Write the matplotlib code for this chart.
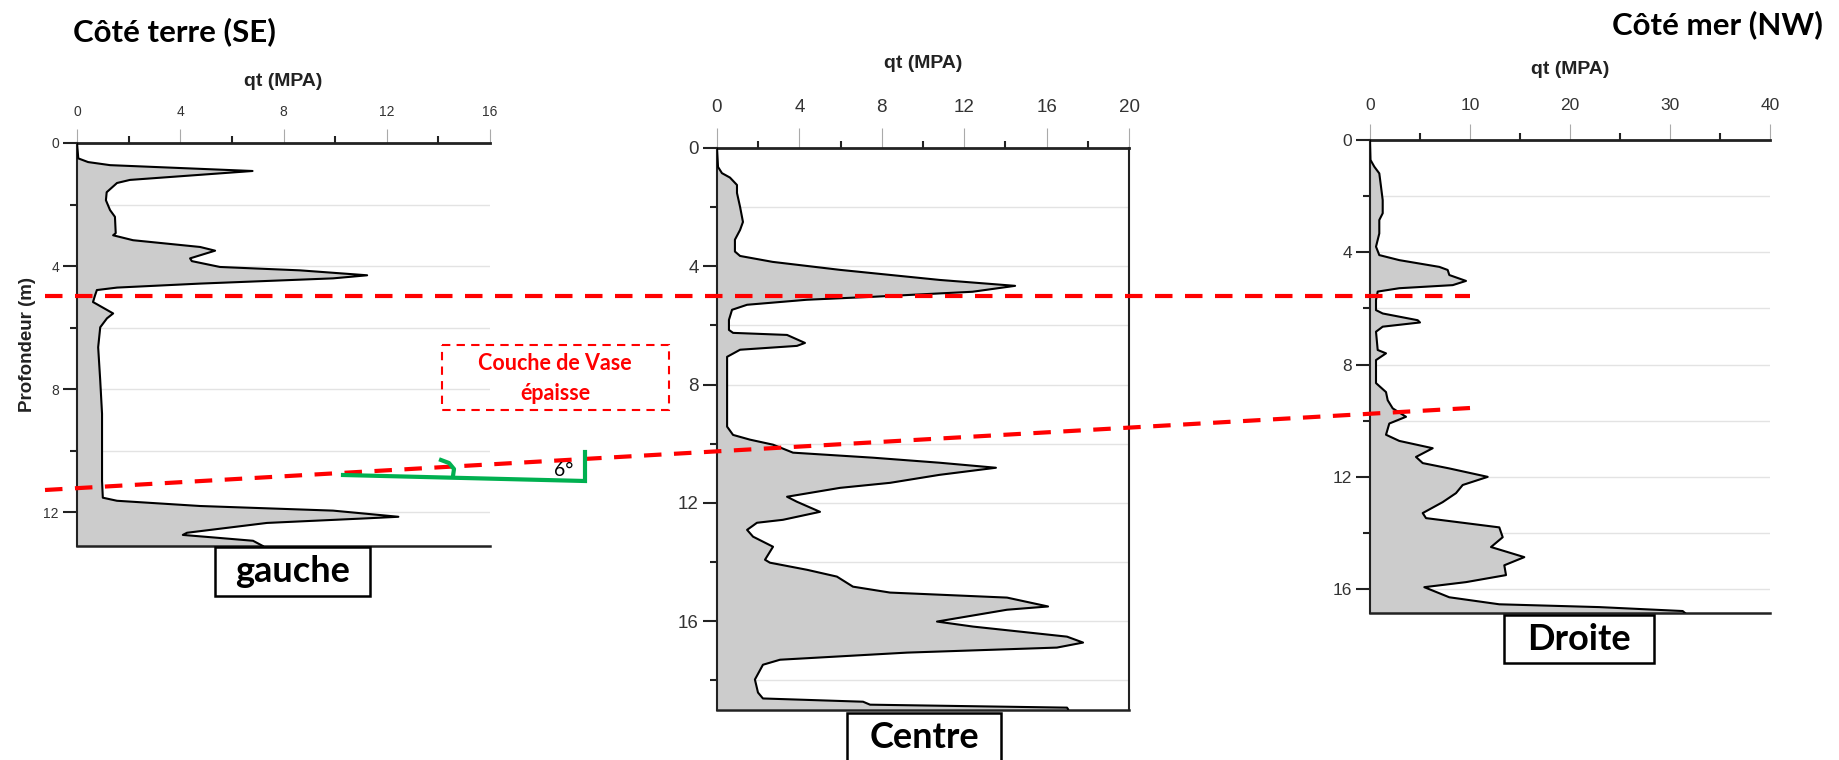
import numpy as np
import matplotlib
matplotlib.use("Agg")
import matplotlib.pyplot as plt
from matplotlib.patches import Rectangle
from matplotlib import font_manager

# ---- data: depth (m) and qt (MPa) ----
gauche_depth = [0, 0.5, 0.62, 0.72, 0.91, 1.2, 1.3, 1.6, 1.86, 2.18, 2.4, 2.93, 3.0, 3.16,
                3.38, 3.5, 3.75, 3.84, 4.03, 4.14, 4.3, 4.4, 4.57, 4.7, 4.78, 4.95, 5.17,
                5.24, 5.54, 5.7, 5.99, 6.64, 7.72, 8.8, 9.9, 10.98, 11.53, 11.63, 11.8,
                11.95, 12.15, 12.2, 12.35, 12.67, 12.74, 12.83, 12.93, 13.1]
gauche_qt = [0, 0.05, 0.43, 1.28, 6.8, 2.05, 1.55, 1.15, 1.12, 1.28, 1.47, 1.5, 1.4, 2.17,
             4.77, 5.35, 4.38, 4.45, 5.54, 8.64, 11.24, 9.92, 4.77, 1.55, 0.77, 0.7, 0.62,
             0.77, 1.4, 1.16, 0.9, 0.82, 0.9, 0.97, 0.97, 0.97, 1.0, 1.55, 4.77,
             9.92, 12.45, 11.24, 7.36, 4.26, 4.1, 5.4, 6.82, 7.2]

centre_depth = [0, 0.64, 0.85, 1.0, 1.25, 1.52, 1.99, 2.5, 2.77, 3.1, 3.5, 3.65, 3.85, 4.12,
                4.46, 4.66, 4.86, 5.03, 5.13, 5.3, 5.47, 5.81, 6.15, 6.25, 6.32, 6.59, 6.69,
                6.82, 7.06, 7.6, 8.74, 9.42, 9.7, 9.86, 10.03, 10.3, 10.47, 10.64, 10.81,
                11.05, 11.32, 11.49, 11.79, 11.96, 12.3, 12.57, 12.67, 12.91, 13.14, 13.48,
                13.92, 14.02, 14.26, 14.49, 14.83, 15.03, 15.2, 15.5, 15.61, 16.01, 16.18,
                16.52, 16.72, 16.89, 17.06, 17.3, 17.47, 17.97, 18.41, 18.61, 18.72, 18.82,
                18.92, 18.97]
centre_qt = [0, 0.05, 0.24, 0.63, 0.97, 0.97, 1.12, 1.26, 1.12, 0.87, 0.87, 1.12, 2.7, 5.97,
             10.8, 14.47, 12.4, 7.57, 4.37, 1.46, 0.73, 0.58, 0.58, 0.78, 3.4, 4.27, 3.88,
             1.12, 0.49, 0.49, 0.49, 0.49, 0.78, 1.6, 2.72, 3.69, 7.57, 10.8, 13.54,
             10.8, 8.4, 5.97, 3.4, 3.88, 5.0, 3.2, 1.94, 1.46, 1.75, 2.72,
             2.33, 2.57, 4.37, 5.82, 6.6, 8.4, 14.08, 16.07, 14.08, 10.68, 12.43,
             16.99, 17.77, 16.5, 9.22, 3.06, 2.23, 1.84, 1.99, 2.23, 7.09, 7.43,
             16.99, 17.04]

droite_depth = [0, 0.71, 0.95, 1.19, 1.66, 2.14, 2.61, 2.85, 3.33, 3.8, 4.1, 4.28, 4.52, 4.63,
                4.81, 5.02, 5.17, 5.28, 5.4, 5.7, 6.06, 6.18, 6.42, 6.5, 6.65, 6.83, 7.48,
                7.6, 7.84, 8.66, 8.98, 9.27, 9.56, 9.86, 10.1, 10.5, 10.72, 10.98, 11.29,
                11.51, 11.7, 12.0, 12.29, 12.58, 12.9, 13.29, 13.47, 13.8, 14.15, 14.5,
                14.86, 15.15, 15.5, 15.75, 15.93, 16.29, 16.54, 16.64, 16.78, 16.85]
droite_qt = [0, 0.05, 0.43, 0.93, 1.1, 1.27, 1.27, 0.93, 0.93, 0.6, 0.93, 2.93, 6.93, 7.77,
             7.93, 9.6, 8.27, 2.93, 0.77, 0.6, 0.6, 1.27, 4.77, 5.0, 1.27, 0.6, 0.77,
             1.6, 0.6, 0.6, 1.6, 1.77, 2.27, 3.6, 1.93, 1.6, 2.93, 6.27, 4.6,
             5.27, 7.93, 11.77, 9.27, 8.6, 7.27, 5.27, 5.6, 12.93, 13.27, 12.1,
             15.43, 13.43, 13.6, 9.6, 5.43, 7.93, 12.93, 22.93, 31.27, 31.5]

panel_names = ["gauche", "Centre", "Droite"]
x_max = [16, 20, 40]
x_step = [4, 4, 10]
y_max = [13.1, 19.0, 16.85]

W, H = 1839, 760
fig = plt.figure(figsize=(W / 100, H / 100), dpi=100)

installed = {f.name for f in font_manager.fontManager.ttflist}
narrow = "Liberation Sans Narrow" if "Liberation Sans Narrow" in installed else "Liberation Sans"
title_font = "Lato"

# axes boxes in pixels (x0, x1, ytop, ybottom) and per-panel tick styling
boxes = [(77, 490, 143, 546), (717, 1129, 148, 710), (1370, 1770, 140, 613)]
tick_size = [10, 13.5, 12.5]
major_len = [10, 14.5, 11.5]
tick_pad = [7, 8.5, 8]
qt_y = [82, 63, 70]
right_spine = [False, True, False]

curves = [(gauche_depth, gauche_qt), (centre_depth, centre_qt), (droite_depth, droite_qt)]

for i, (depth, qt) in enumerate(curves):
    x0, x1, yt, yb = boxes[i]
    ax = fig.add_axes([x0 / W, 1 - yb / H, (x1 - x0) / W, (yb - yt) / H])
    ax.fill_betweenx(depth, 0, qt, color="#cccccc", zorder=2, linewidth=0)
    ax.plot(qt, depth, color="black", lw=1.5, zorder=3)

    ax.set_xlim(0, x_max[i])
    ax.set_ylim(y_max[i], 0)
    ax.xaxis.tick_top()
    ax.set_xticks(np.arange(0, x_max[i] + 0.1, x_step[i]))
    ax.set_xticks(np.arange(x_step[i] / 2, x_max[i], x_step[i]), minor=True)
    ax.set_yticks(np.arange(0, y_max[i], 4))
    ax.set_yticks(np.arange(2, y_max[i], 4), minor=True)
    ax.tick_params(axis="x", which="major", length=major_len[i], width=0.8, color="#aaaaaa",
                   labelsize=tick_size[i], labelcolor="#333333", pad=tick_pad[i])
    ax.tick_params(axis="x", which="minor", length=5, width=1.5, color="#222222")
    ax.tick_params(axis="y", which="major", length=10, width=1.5, color="#222222",
                   labelsize=tick_size[i], labelcolor="#333333", pad=3)
    ax.tick_params(axis="y", which="minor", length=5, width=1.5, color="#222222")
    for lab in ax.get_xticklabels() + ax.get_yticklabels():
        lab.set_fontfamily(narrow)

    ax.grid(True, axis="y", which="both", color="#e3e3e3", lw=1, zorder=0)
    ax.set_axisbelow(True)

    for s in ["top", "left", "bottom", "right"]:
        ax.spines[s].set_color("#222222")
    ax.spines["top"].set_linewidth(2)
    ax.spines["left"].set_linewidth(1.5)
    ax.spines["bottom"].set_linewidth(1.8)
    ax.spines["right"].set_visible(right_spine[i])
    ax.spines["right"].set_linewidth(1.5)

    # axis title placed at the measured height above each panel
    fig.text((x0 + x1) / 2 / W, 1 - qt_y[i] / H, "qt (MPA)", fontsize=14, fontweight="bold",
             family=narrow, color="#222222", ha="center", va="center")
    if i == 0:
        ax.set_ylabel("Profondeur (m)", fontsize=13.5, fontweight="bold", family=narrow,
                      color="#222222", labelpad=5)

# ---- hand-drawn annotations (pixel coordinates of the figure) ----
ov = fig.add_axes([0, 0, 1, 1], zorder=10)
ov.set_xlim(0, W)
ov.set_ylim(H, 0)
ov.axis("off")
ov.patch.set_alpha(0)

ov.text(73, 32, "Côté terre (SE)", fontsize=22.5, fontweight="bold", family=title_font,
        ha="left", va="center")
ov.text(1823, 25, "Côté mer (NW)", fontsize=22.5, fontweight="bold", family=title_font,
        ha="right", va="center")

# red interfaces
ov.plot([45, 1470], [296, 296], color="red", lw=3, ls=(0, (4.2, 3)))
ov.plot([45, 1470], [490, 408], color="red", lw=3, ls=(0, (4.2, 3)))

# thick mud layer box
ov.add_patch(Rectangle((442, 345), 227, 65, fill=False, edgecolor="red", lw=1.5,
                       ls=(0, (4, 3))))
ov.text(555, 363, "Couche de Vase", color="red", fontsize=15.5, fontweight="bold",
        family=title_font, ha="center", va="center")
ov.text(555, 393, "épaisse", color="red", fontsize=15.5, fontweight="bold",
        family=title_font, ha="center", va="center")

# 6 degree angle
green = "#00b050"
ov.plot([343, 585, 585], [475, 481, 452], color=green, lw=3, solid_joinstyle="miter")
ov.plot([441, 449, 454, 453], [460, 463, 469, 476], color=green, lw=3)
ov.text(564, 471, "6°", fontsize=14, family=title_font, ha="center", va="center")

# panel name boxes
name_boxes = [(215, 547, 155, 49), (847, 713, 154, 60), (1504, 615, 150, 48)]
for name, (bx, by, bw, bh) in zip(panel_names, name_boxes):
    ov.add_patch(Rectangle((bx, by), bw, bh, facecolor="white", edgecolor="black", lw=1.8))
    ov.text(bx + bw / 2, by + 24, name, fontsize=26, fontweight="bold",
            family=title_font, ha="center", va="center")

fig.savefig("out.png", dpi=100)
